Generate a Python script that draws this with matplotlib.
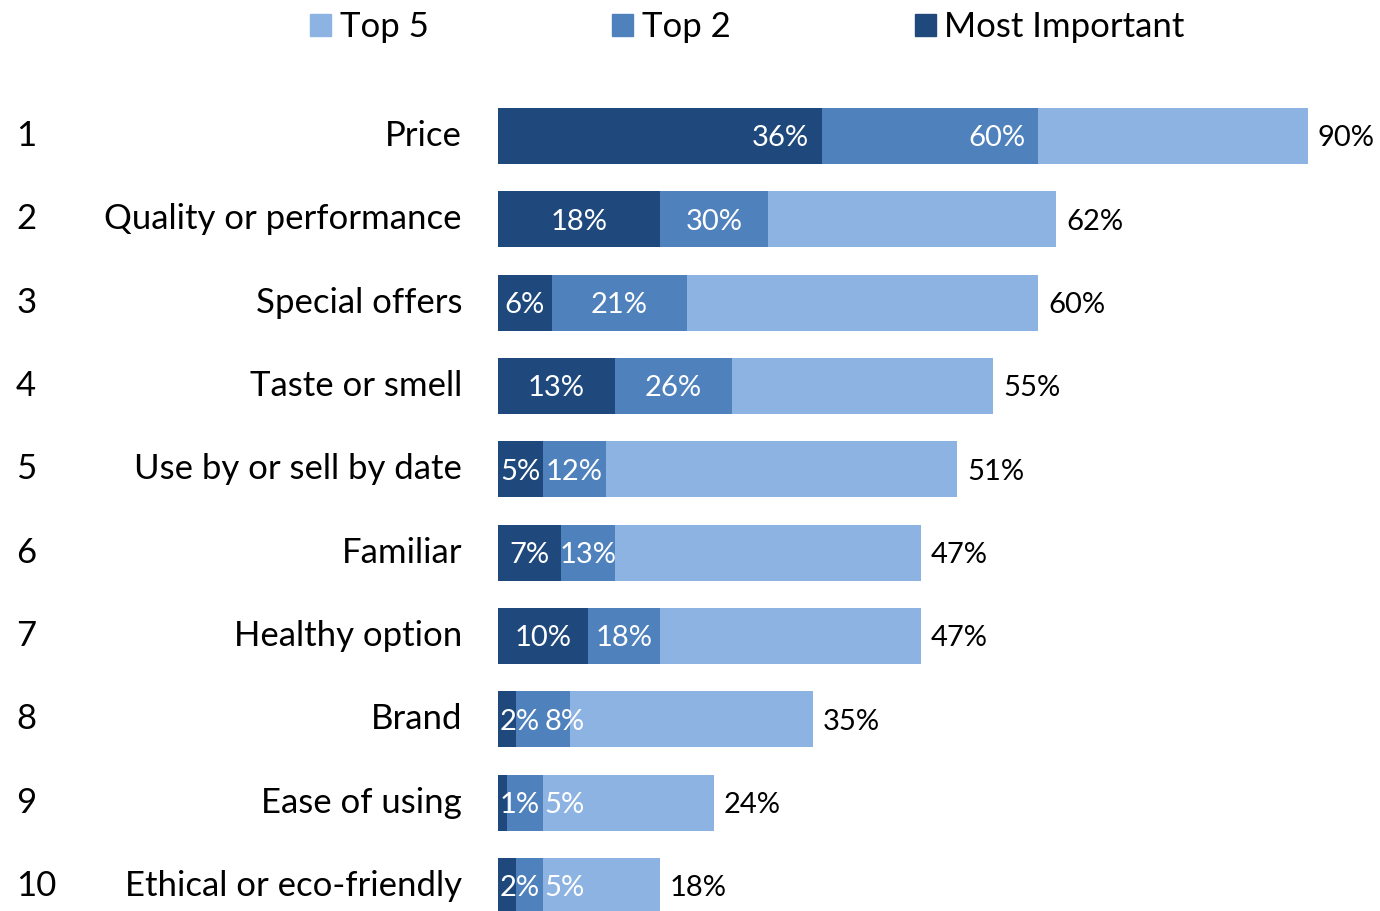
import numpy as np
import matplotlib.pyplot as plt
from matplotlib.patches import Patch
from matplotlib import transforms

plt.rcParams['font.family'] = ['Lato', 'DejaVu Sans']

# Purchase drivers, share of respondents ranking each factor
factors = ["Price", "Quality or performance", "Special offers", "Taste or smell",
           "Use by or sell by date", "Familiar", "Healthy option", "Brand",
           "Ease of using", "Ethical or eco-friendly"]
top5 = [90, 62, 60, 55, 51, 47, 47, 35, 24, 18]
top2 = [60, 30, 21, 26, 12, 13, 18, 8, 5, 5]
most_important = [36, 18, 6, 13, 5, 7, 10, 2, 1, 2]

c_top5 = "#8DB3E2"
c_top2 = "#4F81BD"
c_most = "#1F497D"

W, H = 1380, 911
fig = plt.figure(figsize=(W / 100, H / 100), dpi=100)
# plot area: bars start at x=498px, 9px per percentage point
ax = fig.add_axes([498 / W, 0, (W - 498) / W, (911 - 94.3) / H])
ax.set_xlim(0, (W - 498) / 9)
ax.set_ylim(9.3, -0.5)
ax.axis("off")

y = np.arange(len(factors))
bh = 0.67
ax.barh(y, top5, height=bh, color=c_top5)
ax.barh(y, top2, height=bh, color=c_top2)
ax.barh(y, most_important, height=bh, color=c_most)

lab_fs = 21
for i in range(len(factors)):
    mi, t2, t5 = most_important[i], top2[i], top5[i]
    # most important label
    if mi >= 20:
        x_mi = mi - 4.6
    else:
        x_mi = max(mi / 2, 2.4)
    ax.text(x_mi, i, f"{mi}%", color="white", ha="center", va="center_baseline",
            fontsize=lab_fs)
    # top 2 label, centred on the visible part of the bar
    if t2 - mi >= 20:
        x_t2 = t2 - 4.6
    else:
        x_t2 = max((mi + t2) / 2, x_mi + 5)
    ax.text(x_t2, i, f"{t2}%", color="white", ha="center", va="center_baseline",
            fontsize=lab_fs)
    # top 5 label outside the bar
    ax.text(t5 + 1.1, i, f"{t5}%", color="black", ha="left", va="center_baseline",
            fontsize=lab_fs)

# rank numbers and category names on the left
trans = transforms.blended_transform_factory(fig.transFigure, ax.transData)
for i, name in enumerate(factors):
    ax.text(16 / W, i, str(i + 1), transform=trans, ha="left", va="center",
            fontsize=25, color="black")
    ax.text(462 / W, i, name, transform=trans, ha="right", va="center",
            fontsize=25, color="black")

handles = [Patch(color=c_top5, label="Top 5"),
           Patch(color=c_top2, label="Top 2"),
           Patch(color=c_most, label="Most Important")]
fig.legend(handles=handles, loc="center left", bbox_to_anchor=(310 / W, 1 - 27 / H),
           ncol=3, frameon=False, fontsize=25, handlelength=0.6, handleheight=0.6,
           handletextpad=0.25, columnspacing=5.3, borderaxespad=0, borderpad=0)

fig.savefig("out.png", dpi=100, facecolor="white")
